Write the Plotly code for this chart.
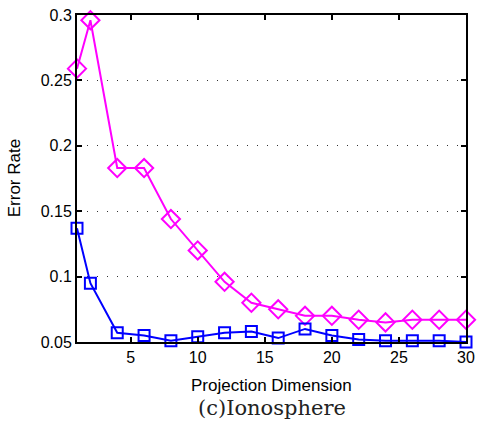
import plotly.graph_objects as go

# Projection dimensions evaluated
dims = [1, 2, 4, 6, 8, 10, 12, 14, 16, 18, 20, 22, 24, 26, 28, 30]

# Error rates for the two methods
err_magenta = [0.259, 0.296, 0.183, 0.183, 0.144, 0.120, 0.096, 0.080,
               0.075, 0.070, 0.070, 0.067, 0.065, 0.067, 0.067, 0.067]
err_blue = [0.137, 0.095, 0.057, 0.055, 0.051, 0.054, 0.057, 0.058,
            0.053, 0.060, 0.055, 0.052, 0.051, 0.051, 0.051, 0.050]

x_ticks = [5, 10, 15, 20, 25, 30]
y_ticks = [0.05, 0.1, 0.15, 0.2, 0.25, 0.3]
y_tick_text = ["0.05", "0.1", "0.15", "0.2", "0.25", "0.3"]

fig = go.Figure()

fig.add_trace(go.Scatter(
    x=dims, y=err_magenta, mode="lines+markers",
    line=dict(color="#FF00FF", width=2),
    marker=dict(symbol="diamond-open", size=14, color="#FF00FF",
                line=dict(color="#FF00FF", width=2)),
    cliponaxis=False, showlegend=False,
))
fig.add_trace(go.Scatter(
    x=dims, y=err_blue, mode="lines+markers",
    line=dict(color="#0000FF", width=2),
    marker=dict(symbol="square-open", size=11, color="#0000FF",
                line=dict(color="#0000FF", width=2)),
    cliponaxis=False, showlegend=False,
))

sans = "Liberation Sans, Arial, sans-serif"
axis_font = dict(family=sans, size=16, color="black")

fig.update_xaxes(
    range=[1, 30], tickvals=x_ticks, ticks="inside", ticklen=5,
    tickcolor="black", tickwidth=1.5, showline=True, linecolor="black",
    linewidth=2, mirror="ticks", showgrid=False, zeroline=False,
    tickfont=axis_font, ticklabeloverflow="allow",
)
fig.update_yaxes(
    range=[0.05, 0.3], tickvals=y_ticks, ticktext=y_tick_text,
    ticks="inside", ticklen=5, tickcolor="black", tickwidth=1.5,
    showline=True, linecolor="black", linewidth=2, mirror="ticks",
    showgrid=True, gridcolor="#333333", gridwidth=1, griddash="1px,9px",
    zeroline=False, tickfont=axis_font, ticklabeloverflow="allow",
)

fig.update_layout(
    width=481, height=428,
    margin=dict(l=77, r=6, t=15, b=86),
    paper_bgcolor="white", plot_bgcolor="white",
    annotations=[
        dict(text="Projection Dimension", x=0.5, y=-0.098, xref="paper",
             yref="paper", xanchor="center", yanchor="top", showarrow=False,
             font=dict(family=sans, size=17, color="black")),
        dict(text="Error Rate", x=-0.16, y=0.5, xref="paper", yref="paper",
             xanchor="center", yanchor="middle", textangle=-90,
             showarrow=False, font=dict(family=sans, size=17, color="black")),
        dict(text="(c)Ionosphere", x=0.5, y=-0.16, xref="paper",
             yref="paper", xanchor="center", yanchor="top", showarrow=False,
             font=dict(family="DejaVu Serif, Liberation Serif, serif", size=21,
                       color="#222222")),
    ],
)

fig.write_html("out.html")
